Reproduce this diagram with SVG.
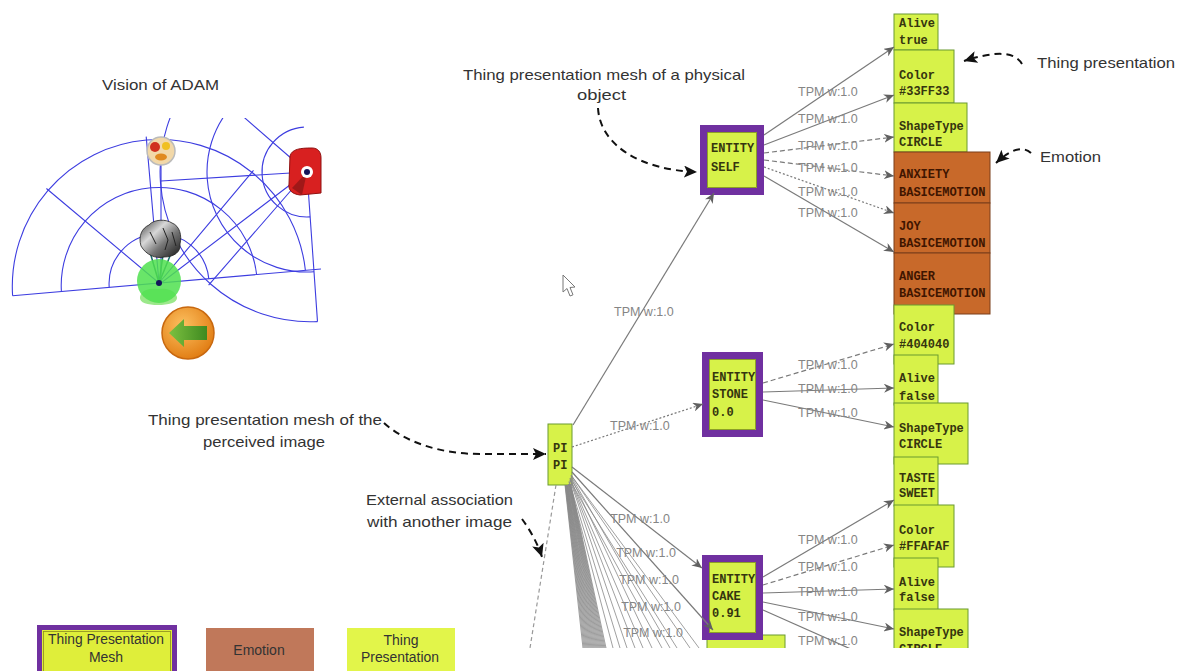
<svg xmlns="http://www.w3.org/2000/svg" width="1179" height="671" viewBox="0 0 1179 671">
  <style>
    .ann { font-family: "Liberation Sans", Arial, sans-serif; font-size: 15px; fill: #333; }
    .leg { font-family: "Liberation Sans", Arial, sans-serif; font-size: 14px; fill: #333; }
    .lbl { font-family: "Liberation Sans", Arial, sans-serif; font-size: 12.5px; fill: #858585; }
    .nt { font-family: "Liberation Mono", "Courier New", monospace; font-size: 12px; font-weight: bold; fill: #35350f; }
    .et { font-family: "Liberation Mono", "Courier New", monospace; font-size: 12px; font-weight: bold; fill: #3f1500; }
    .tp { fill: #d7f249; stroke: #6a9a30; stroke-width: 1; }
    .em { fill: #c8692a; stroke: #7a3f1a; stroke-width: 1; }
    .tpm { fill: #d7f249; stroke: #7030a0; stroke-width: 7; }
    .tpmin { fill: none; stroke: #7a8a20; stroke-width: 0.8; }
    .edge { fill: none; stroke: #7a7a7a; stroke-width: 1.2; marker-end: url(#ga); }
    .dash { stroke-dasharray: 5 3; }
    .dot { stroke-dasharray: 2 2; }
    .fan { fill: none; stroke: #888; stroke-width: 0.8; }
    .grid { fill: none; stroke: #3d3de0; stroke-width: 1.1; }
    .callout { fill: none; stroke: #111; stroke-width: 2; stroke-dasharray: 7 5; marker-end: url(#ba); }
  </style>
  <defs>
    <marker id="ga" markerUnits="userSpaceOnUse" markerWidth="11" markerHeight="9" refX="10" refY="4.5" orient="auto">
      <path d="M0,0 L10,4.5 L0,9 L3,4.5 z" fill="#606060"/>
    </marker>
    <marker id="ba" markerUnits="userSpaceOnUse" markerWidth="14" markerHeight="12" refX="13" refY="6" orient="auto">
      <path d="M0,0 L13,6 L0,12 L3,6 z" fill="#111"/>
    </marker>
    <clipPath id="graphClip"><rect x="460" y="0" width="560" height="648"/></clipPath>
    <clipPath id="visionClip"><rect x="0" y="118" width="321" height="230"/></clipPath>
    <radialGradient id="orange" cx="0.4" cy="0.35" r="0.7">
      <stop offset="0" stop-color="#fcc060"/>
      <stop offset="1" stop-color="#e07a10"/>
    </radialGradient>
    <linearGradient id="arrowGreen" x1="0" y1="0" x2="1" y2="0">
      <stop offset="0" stop-color="#7cc040"/>
      <stop offset="1" stop-color="#3f8a20"/>
    </linearGradient>
    <linearGradient id="stone" x1="0" y1="0" x2="1" y2="1">
      <stop offset="0" stop-color="#3a3a3a"/>
      <stop offset="0.35" stop-color="#d8d8d8"/>
      <stop offset="0.6" stop-color="#777"/>
      <stop offset="1" stop-color="#151515"/>
    </linearGradient>
  </defs>

  <rect width="1179" height="671" fill="#fff"/>

  <!-- Vision panel -->
  <g id="vision">
    <text class="ann" x="160.5" y="90" text-anchor="middle" textLength="117" lengthAdjust="spacingAndGlyphs">Vision of ADAM</text>
    <g clip-path="url(#visionClip)">
      <!-- sector of the agent -->
      <path class="grid" d="M12.6,295.8 L321,269"/>
      <path class="grid" d="M12.6,295.8 A147,147 0 0 1 305.4,270.2"/>
      <path class="grid" d="M61.4,291.5 A98,98 0 0 1 256.6,274.5"/>
      <path class="grid" d="M109.2,287.4 A50,50 0 0 1 208.8,278.6"/>
      <path class="grid" d="M159,283 L46.4,188.5 M159,283 L146.2,136.6 M159,283 L253.5,170.4"/>
      <!-- sector of the red object -->
      <path class="grid" d="M310.1,216.9 A45,45 0 0 1 303.9,127.1"/>
      <path class="grid" d="M314,271.8 A100,100 0 0 1 300,72.2"/>
      <path class="grid" d="M317.5,321.6 A150,150 0 0 1 296.5,22.4"/>
      <path class="grid" d="M307,172 L317.5,321.6 M307,172 L208.6,285.2 M307,172 L161,181 M307,172 L193.8,73.6"/>
      <path class="grid" d="M161,283 L161,150 M161,283 L307,172"/>
    </g>
    <!-- sight lines to the stone -->
    <path d="M159,283 L150,252 M159,283 L163,255 M159,283 L170,256" stroke="#1a6a6a" stroke-width="1.5" fill="none"/>
    <!-- plate of food -->
    <circle cx="161" cy="151" r="14" fill="#f2d8a8" stroke="#bbb" stroke-width="1.5"/>
    <circle cx="155" cy="147" r="5" fill="#d03020"/>
    <circle cx="166" cy="146" r="4" fill="#f0c020"/>
    <ellipse cx="161" cy="157" rx="6" ry="3.5" fill="#e08a20"/>
    <!-- stone -->
    <path d="M141,246 C138,236 142,228 149,225 C154,219 166,219 172,223 C180,226 182,236 180,244 C181,252 174,257 164,257 C156,259 146,255 141,246 z" fill="url(#stone)" stroke="#222" stroke-width="0.8"/>
    <path d="M150,232 L156,244 M163,228 L168,240 L165,250 M172,232 L176,246" stroke="#222" stroke-width="1" fill="none"/>
    <!-- agent -->
    <path d="M140,297 C142,289 150,288 158,289 C167,288 175,290 177,297 C178,303 168,305 158,305 C148,305 139,303 140,297 z" fill="#9be88a"/>
    <circle cx="159" cy="281" r="22" fill="#4fe04f" opacity="0.85"/>
    <circle cx="159" cy="283" r="3" fill="#14145a"/>
    <!-- red object -->
    <path d="M290,156 C292,149 300,148 312,148 C318,148 321,152 321,158 L321,193 L300,195 C292,194 288,190 289,184 z" fill="#d82020" stroke="#901010" stroke-width="1"/>
    <path d="M292,188 L307,172 L302,195 z" fill="#a01818"/>
    <circle cx="307" cy="172" r="6" fill="#fff"/>
    <circle cx="307" cy="172" r="3" fill="#14145a"/>
    <!-- orange back button -->
    <circle cx="188" cy="333" r="26" fill="url(#orange)" stroke="#c8680f" stroke-width="1.5"/>
    <path d="M169,333 L184,319 L184,326 L207,326 L207,340 L184,340 L184,347 z" fill="url(#arrowGreen)"/>
  </g>

  <!-- Nodes -->
  <g clip-path="url(#graphClip)">
    <g id="n-alive-true"><rect class="tp" x="894" y="14" width="44" height="36"/><text class="nt" x="899" y="27">Alive</text><text class="nt" x="899" y="44">true</text></g>
    <g id="n-color-33ff33"><rect class="tp" x="894" y="50" width="60" height="53"/><text class="nt" x="899" y="79">Color</text><text class="nt" x="899" y="95">#33FF33</text></g>
    <g id="n-shape-1"><rect class="tp" x="894" y="103" width="73" height="49"/><text class="nt" x="899" y="130">ShapeType</text><text class="nt" x="899" y="146">CIRCLE</text></g>
    <g id="n-anxiety"><rect class="em" x="894" y="152" width="96" height="51"/><text class="et" x="899" y="178">ANXIETY</text><text class="et" x="899" y="196">BASICEMOTION</text></g>
    <g id="n-joy"><rect class="em" x="894" y="203" width="96" height="50"/><text class="et" x="899" y="230">JOY</text><text class="et" x="899" y="247">BASICEMOTION</text></g>
    <g id="n-anger"><rect class="em" x="894" y="253" width="96" height="61"/><text class="et" x="899" y="280">ANGER</text><text class="et" x="899" y="297">BASICEMOTION</text></g>
    <g id="n-color-404040"><rect class="tp" x="894" y="305" width="60" height="59"/><text class="nt" x="899" y="331">Color</text><text class="nt" x="899" y="348">#404040</text></g>
    <g id="n-alive-false-1"><rect class="tp" x="894" y="355" width="44" height="50"/><text class="nt" x="899" y="382">Alive</text><text class="nt" x="899" y="400">false</text></g>
    <g id="n-shape-2"><rect class="tp" x="894" y="403" width="74" height="61"/><text class="nt" x="899" y="432">ShapeType</text><text class="nt" x="899" y="448">CIRCLE</text></g>
    <g id="n-taste"><rect class="tp" x="894" y="457" width="44" height="49"/><text class="nt" x="899" y="482">TASTE</text><text class="nt" x="899" y="497">SWEET</text></g>
    <g id="n-color-ffafaf"><rect class="tp" x="894" y="505" width="60" height="62"/><text class="nt" x="899" y="534">Color</text><text class="nt" x="899" y="550">#FFAFAF</text></g>
    <g id="n-alive-false-2"><rect class="tp" x="894" y="558" width="44" height="52"/><text class="nt" x="899" y="586">Alive</text><text class="nt" x="899" y="601">false</text></g>
    <g id="n-shape-3"><rect class="tp" x="894" y="609" width="74" height="50"/><text class="nt" x="899" y="636">ShapeType</text><text class="nt" x="899" y="653">CIRCLE</text></g>

    <g id="n-entity-self"><rect class="tpm" x="703.5" y="128.5" width="57" height="63"/><rect class="tpmin" x="707.5" y="132.5" width="49" height="55"/><text class="nt" x="711" y="152">ENTITY</text><text class="nt" x="711" y="171">SELF</text></g>
    <g id="n-entity-stone"><rect class="tpm" x="705.5" y="355.5" width="54" height="78"/><rect class="tpmin" x="709.5" y="359.5" width="46" height="70"/><text class="nt" x="712" y="381">ENTITY</text><text class="nt" x="712" y="398">STONE</text><text class="nt" x="712" y="416">0.0</text></g>
    <g id="n-below-cake"><rect class="tp" x="707" y="635" width="78" height="30"/></g>
    <g id="n-entity-cake"><rect class="tpm" x="705.5" y="558.5" width="54" height="78"/><rect class="tpmin" x="709.5" y="562.5" width="46" height="70"/><text class="nt" x="712" y="583">ENTITY</text><text class="nt" x="712" y="600">CAKE</text><text class="nt" x="712" y="617">0.91</text></g>
    <g id="n-pi"><rect class="tp" x="548" y="424" width="24" height="61"/><text class="nt" x="553" y="452">PI</text><text class="nt" x="553" y="469">PI</text></g>

    <!-- Connectors -->
    <g id="connectors">
      <path class="edge" d="M573,425 L714,193" stroke="#aaa" stroke-width="1"/>
      <path class="edge dot" d="M572,447 L703,404"/>
      <path d="M556,485 L530,648" fill="none" stroke="#999" stroke-width="1.2" stroke-dasharray="4 3"/>
      <path class="fan" stroke="#5a5a5a" stroke-width="0.6" d="M565,485L583,648 M565.3,485L584,648 M565.5,485L585,648 M565.8,485L586,648 M566,485L587,648 M566.3,485L588,648 M566.5,485L589,648 M566.8,485L590,648 M567,485L591,648 M567.3,485L592,648 M567.5,485L593,648 M567.8,485L594,648 M568,485L595,648 M568.3,484L596,648 M568.5,484L597,648 M568.8,484L598,648 M569,484L599,648 M569.3,484L600,648 M569.5,484L601,648 M569.8,484L602,648 M570,484L603,648 M570.3,484L604,648 M570.5,484L605,648 M570.8,484L606,648"/>
      <path class="fan" d="M569,482L613,648 M569,481L620,648 M570,480L627,648 M570,479L635,648 M570,478L643,648 M571,477L652,648 M570,480L662,648 M571,476L670,648 M570,478L677,648 M571,475L690,648 M571,475L699,648"/>
      <path class="edge" stroke="#8a8a8a" stroke-width="1" d="M572,472 L713,630"/>
      <path class="edge" stroke="#8a8a8a" stroke-width="1" d="M572,467 L702,568"/>

      <path class="edge" d="M764,135 L894,47"/>
      <path class="edge" d="M764,145 L894,95"/>
      <path class="edge dash" d="M764,153 L894,137"/>
      <path class="edge dash" d="M764,160 L894,176"/>
      <path class="edge dot" d="M764,167 L894,213"/>
      <path class="edge" stroke="#999" d="M764,176 L894,252"/>

      <path class="edge dash" d="M763,383 L894,344"/>
      <path class="edge" d="M763,392 L894,388"/>
      <path class="edge" d="M763,400 L894,427"/>

      <path class="edge" d="M763,577 L894,500"/>
      <path class="edge dash" d="M763,585 L894,545"/>
      <path class="edge" d="M763,593 L894,589"/>
      <path class="edge" d="M763,602 L894,629"/>
      <path class="edge" d="M763,610 L880,662"/>
    </g>

    <g id="edge-labels">
      <text class="lbl" x="614" y="316">TPM w:1.0</text>
      <text class="lbl" x="610" y="430">TPM w:1.0</text>
      <text class="lbl" x="640" y="523" text-anchor="middle">TPM w:1.0</text>
      <text class="lbl" x="646" y="557" text-anchor="middle">TPM w:1.0</text>
      <text class="lbl" x="649" y="584" text-anchor="middle">TPM w:1.0</text>
      <text class="lbl" x="651" y="611" text-anchor="middle">TPM w:1.0</text>
      <text class="lbl" x="653" y="637" text-anchor="middle">TPM w:1.0</text>
      <text class="lbl" x="798" y="96">TPM w:1.0</text>
      <text class="lbl" x="798" y="123">TPM w:1.0</text>
      <text class="lbl" x="798" y="150">TPM w:1.0</text>
      <text class="lbl" x="798" y="172">TPM w:1.0</text>
      <text class="lbl" x="798" y="196">TPM w:1.0</text>
      <text class="lbl" x="798" y="217">TPM w:1.0</text>
      <text class="lbl" x="798" y="369">TPM w:1.0</text>
      <text class="lbl" x="798" y="393">TPM w:1.0</text>
      <text class="lbl" x="798" y="417">TPM w:1.0</text>
      <text class="lbl" x="798" y="544">TPM w:1.0</text>
      <text class="lbl" x="798" y="571">TPM w:1.0</text>
      <text class="lbl" x="798" y="596">TPM w:1.0</text>
      <text class="lbl" x="798" y="621">TPM w:1.0</text>
      <text class="lbl" x="798" y="645">TPM w:1.0</text>
    </g>
  </g>

  <!-- mouse pointer -->
  <path d="M563,275 L563,292 L567,288.5 L570,296 L573,294.8 L570,287.5 L575,287 z" fill="#fff" stroke="#777" stroke-width="1"/>

  <!-- Callouts -->
  <g id="callouts">
    <text class="ann" x="463" y="80" textLength="282" lengthAdjust="spacingAndGlyphs">Thing presentation mesh of a physical</text>
    <text class="ann" x="601.5" y="100" text-anchor="middle" textLength="49" lengthAdjust="spacingAndGlyphs">object</text>
    <path class="callout" d="M598,108 C600,145 640,170 697,172"/>

    <text class="ann" x="1037" y="68" textLength="138" lengthAdjust="spacingAndGlyphs">Thing presentation</text>
    <path class="callout" d="M1022,64 C1014,50 992,52 964,61"/>

    <text class="ann" x="1040" y="162" textLength="61" lengthAdjust="spacingAndGlyphs">Emotion</text>
    <path class="callout" d="M1031,153 C1022,145 1010,150 996,163"/>

    <text class="ann" x="148" y="425" textLength="234" lengthAdjust="spacingAndGlyphs">Thing presentation mesh of the</text>
    <text class="ann" x="264" y="447" text-anchor="middle" textLength="122" lengthAdjust="spacingAndGlyphs">perceived image</text>
    <path class="callout" d="M384,423 C405,442 440,454 480,454 L546,454"/>

    <text class="ann" x="366" y="505" textLength="147" lengthAdjust="spacingAndGlyphs">External association</text>
    <text class="ann" x="367" y="527" textLength="145" lengthAdjust="spacingAndGlyphs">with another image</text>
    <path class="callout" d="M522,519 C530,530 537,542 542,557"/>
  </g>

  <!-- Legend -->
  <g id="legend">
    <g id="legend-tpm">
      <rect x="39.5" y="627.5" width="135" height="50" fill="#dfee3a" stroke="#7030a0" stroke-width="5"/>
      <rect x="43.5" y="631.5" width="127" height="44" fill="none" stroke="#8a8a20" stroke-width="0.8"/>
      <text class="leg" x="106" y="644" text-anchor="middle" textLength="116" lengthAdjust="spacingAndGlyphs">Thing Presentation</text>
      <text class="leg" x="106" y="662" text-anchor="middle">Mesh</text>
    </g>
    <g id="legend-emotion">
      <rect x="206" y="628" width="108" height="50" fill="#c0785a"/>
      <text class="leg" x="259" y="655" text-anchor="middle">Emotion</text>
    </g>
    <g id="legend-tp">
      <rect x="347" y="628" width="108" height="50" fill="#e2f54a"/>
      <text class="leg" x="401" y="645" text-anchor="middle">Thing</text>
      <text class="leg" x="400" y="662" text-anchor="middle" textLength="78" lengthAdjust="spacingAndGlyphs">Presentation</text>
    </g>
  </g>
</svg>
